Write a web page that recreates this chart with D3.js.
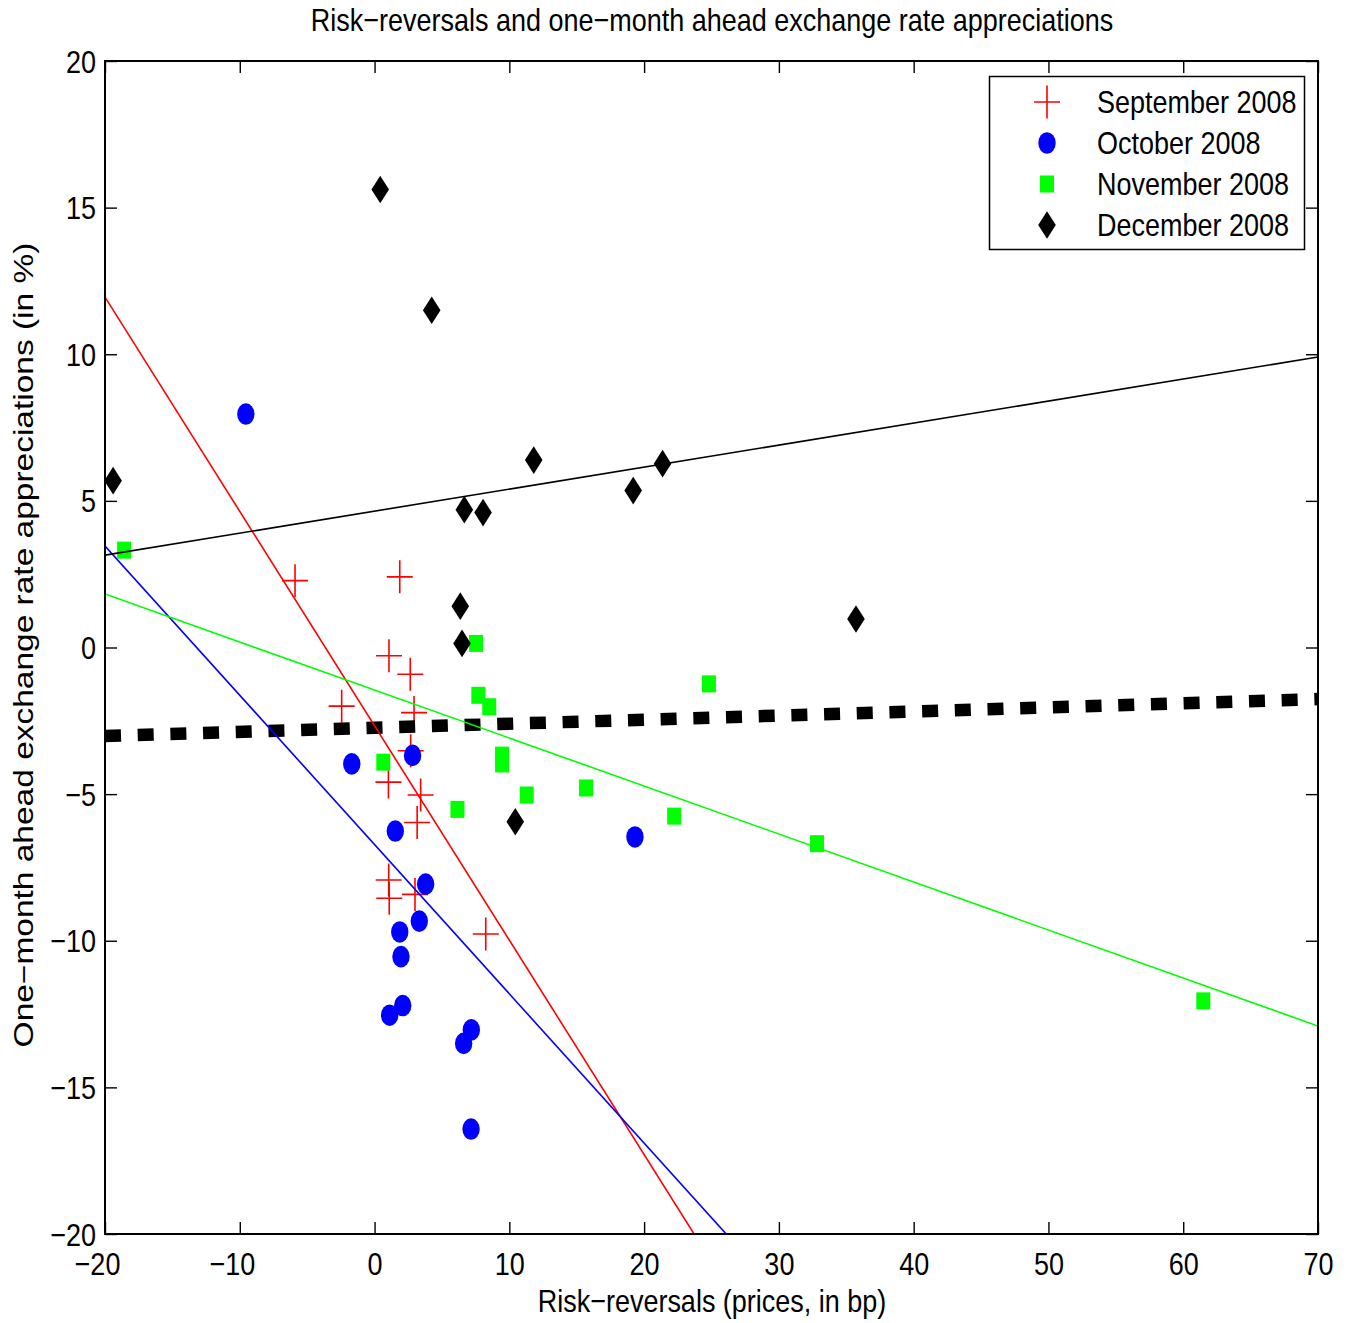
<!DOCTYPE html>
<meta charset="utf-8">
<title>Risk-reversals and exchange rate appreciations</title>
<style>
    body { margin: 0; background: #fff; }
    text { font-family: "Liberation Sans", Arial, sans-serif; fill: #000; }
</style>
<body>
<svg id="chart" width="1351" height="1323"></svg>

<script src="https://cdn.jsdelivr.net/npm/d3@7/dist/d3.min.js"></script>
<script>
    // data
    var sepX = [-5.90, 1.87, 1.07, 2.65, -2.44, 2.93, 2.68, 1.03, 3.42, 3.16, 1.05, 1.09, 3.00, 8.25];
    var sepY = [2.28, 2.41, -0.28, -0.91, -2.00, -2.22, -3.52, -4.59, -5.03, -5.97, -7.93, -8.55, -8.42, -9.77];

    var octX = [-9.55, -1.69, 2.82, 1.54, 3.79, 3.32, 1.87, 1.96, 2.09, 1.12, 7.18, 6.61, 7.16, 19.32];
    var octY = [7.96, -3.97, -3.68, -6.26, -8.07, -9.33, -9.70, -10.54, -12.21, -12.54, -13.04, -13.50, -16.42, -6.46];

    var novX = [-18.58, 7.53, 7.70, 8.51, 0.65, 9.46, 9.46, 6.15, 11.29, 15.69, 24.81, 22.23, 32.83, 61.49];
    var novY = [3.32, 0.14, -1.63, -2.02, -3.91, -3.67, -3.97, -5.52, -5.03, -4.79, -1.24, -5.75, -6.69, -12.05];

    var decX = [-19.40, 0.42, 4.24, 11.81, 19.19, 21.37, 6.66, 8.05, 6.36, 6.49, 10.44, 35.72];
    var decY = [5.69, 15.62, 11.50, 6.39, 5.35, 6.27, 4.70, 4.60, 1.41, 0.14, -5.94, 0.97];

    // fitted lines: y = intercept + slope * x
    var fitNames = ["sep", "oct", "nov", "dec", "all"];
    var fitIntercept = [-2.67, -6.72, -1.45, 4.65, -2.74];
    var fitSlope = [-0.731, -0.509, -0.1637, 0.0751, 0.014];

    var xTicks = [-20, -10, 0, 10, 20, 30, 40, 50, 60, 70];
    var yTicks = [-20, -15, -10, -5, 0, 5, 10, 15, 20];
    var legendLabels = ["September 2008", "October 2008", "November 2008", "December 2008"];

    var plot = { left: 105, right: 1318, top: 61, bottom: 1234 };
    var FS = 27, SY = 1.18;   // text is stretched vertically like the rest of the figure

    var x = d3.scaleLinear().domain([-20, 70]).range([plot.left, plot.right]);
    var y = d3.scaleLinear().domain([-20, 20]).range([plot.bottom, plot.top]);

    var svg = d3.select("#chart");

    svg.append("clipPath").attr("id", "clip")
        .append("rect")
        .attr("x", plot.left).attr("y", plot.top)
        .attr("width", plot.right - plot.left).attr("height", plot.bottom - plot.top);

    // marker shapes
    var markers = {
        cross: function (g, c) {
            g.append("path").attr("d", "M-13,0H13M0,-16.5V16.5")
                .attr("stroke", c).attr("stroke-width", 1.6).attr("fill", "none");
        },
        circle: function (g, c) {
            g.append("ellipse").attr("rx", 8.7).attr("ry", 10.8).attr("fill", c);
        },
        square: function (g, c) {
            g.append("rect").attr("x", -7).attr("y", -8.5).attr("width", 14).attr("height", 17).attr("fill", c);
        },
        diamond: function (g, c) {
            g.append("path").attr("d", "M0,-13.8L8.8,0L0,13.8L-8.8,0Z").attr("fill", c);
        }
    };

    var series = [
        { xs: sepX, ys: sepY, shape: "cross", color: "#ff0000" },
        { xs: octX, ys: octY, shape: "circle", color: "#0000ff" },
        { xs: novX, ys: novY, shape: "square", color: "#00ff00" },
        { xs: decX, ys: decY, shape: "diamond", color: "#000000" }
    ];

    // points
    series.forEach(function (s) {
        var pts = s.xs.map(function (v, i) { return [v, s.ys[i]]; });
        svg.append("g").selectAll("g")
            .data(pts)
            .enter().append("g")
            .attr("transform", function (d) { return "translate(" + x(d[0]) + "," + y(d[1]) + ")"; })
            .each(function () { markers[s.shape](d3.select(this), s.color); });
    });

    // fit lines
    var lineColors = { sep: "#ff0000", oct: "#0000ff", nov: "#00ff00", dec: "#000000", all: "#000000" };
    var lineLayer = svg.append("g").attr("clip-path", "url(#clip)");
    var order = [4, 0, 1, 2, 3];
    order.forEach(function (i) {
        var f = function (v) { return fitIntercept[i] + fitSlope[i] * v; };
        var p = lineLayer.append("line")
            .attr("x1", x(-20)).attr("y1", y(f(-20)))
            .attr("x2", x(70)).attr("y2", y(f(70)))
            .attr("stroke", lineColors[fitNames[i]]);
        if (fitNames[i] === "all") {
            p.attr("stroke-width", 12.5).attr("stroke-dasharray", "16 16.7");
        } else {
            p.attr("stroke-width", 1.6);
        }
    });

    // axes, ticks pointing inwards on all four sides
    function styleTicks(g) {
        g.select(".domain").remove();
        g.selectAll("line").attr("stroke", "#000").attr("stroke-width", 1.4);
    }

    var gx = svg.append("g").attr("transform", "translate(0," + plot.bottom + ")")
        .call(d3.axisBottom(x).tickValues(xTicks).tickSize(-12).tickPadding(0));
    styleTicks(gx);
    gx.selectAll("text").attr("y", null).attr("dy", null).attr("font-size", FS)
        .attr("transform", function (d) {
            return "translate(" + (d < 0 ? -8 : 0) + ",41) scale(1," + SY + ")";
        });

    var gxt = svg.append("g").attr("transform", "translate(0," + plot.top + ")")
        .call(d3.axisTop(x).tickValues(xTicks).tickSize(-12).tickFormat(""));
    styleTicks(gxt);

    var gy = svg.append("g").attr("transform", "translate(" + plot.left + ",0)")
        .call(d3.axisLeft(y).tickValues(yTicks).tickSize(-12).tickPadding(0));
    styleTicks(gy);
    gy.selectAll("text").attr("x", null).attr("dy", null).attr("font-size", FS)
        .attr("transform", "translate(-9,11) scale(1," + SY + ")");

    var gyr = svg.append("g").attr("transform", "translate(" + plot.right + ",0)")
        .call(d3.axisRight(y).tickValues(yTicks).tickSize(-12).tickFormat(""));
    styleTicks(gyr);

    // frame
    svg.append("rect")
        .attr("x", plot.left).attr("y", plot.top)
        .attr("width", plot.right - plot.left).attr("height", plot.bottom - plot.top)
        .attr("fill", "none").attr("stroke", "#000").attr("stroke-width", 2);

    // titles
    svg.append("text")
        .attr("text-anchor", "middle").attr("font-size", FS)
        .attr("transform", "translate(712,31) scale(1," + SY + ")")
        .text("Risk\u2212reversals and one\u2212month ahead exchange rate appreciations");

    svg.append("text")
        .attr("text-anchor", "middle").attr("font-size", FS)
        .attr("transform", "translate(712,1312) scale(1," + SY + ")")
        .text("Risk\u2212reversals (prices, in bp)");

    svg.append("text")
        .attr("text-anchor", "middle").attr("font-size", FS)
        .attr("transform", "translate(33,645) rotate(-90) scale(1.24,1)")
        .text("One\u2212month ahead exchange rate appreciations (in %)");

    // legend
    var lg = svg.append("g");
    lg.append("rect")
        .attr("x", 989.5).attr("y", 76.5).attr("width", 315).attr("height", 173)
        .attr("fill", "#fff").attr("stroke", "#000").attr("stroke-width", 1.5);
    var rowY = d3.scaleLinear().domain([0, 3]).range([102, 225]);
    series.forEach(function (s, i) {
        var r = lg.append("g").attr("transform", "translate(1047," + rowY(i) + ")");
        markers[s.shape](r, s.color);
        lg.append("text").attr("font-size", FS)
            .attr("transform", "translate(1097," + (rowY(i) + 11) + ") scale(1," + SY + ")")
            .text(legendLabels[i]);
    });
</script>
</body>
